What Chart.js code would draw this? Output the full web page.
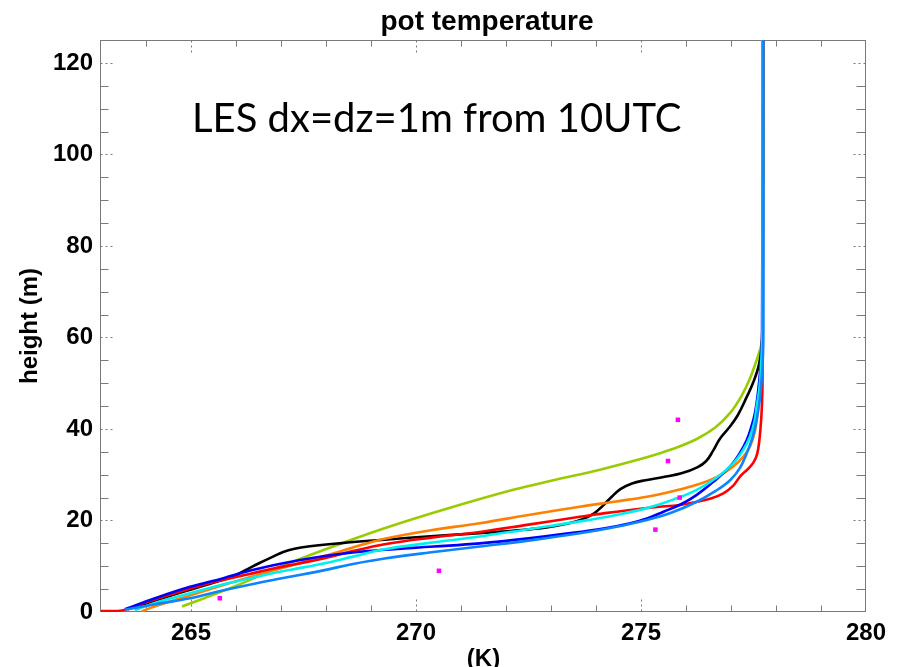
<!DOCTYPE html>
<html><head><meta charset="utf-8">
<script src="https://cdn.jsdelivr.net/npm/chart.js@4/dist/chart.umd.min.js"></script>
<style>html,body{margin:0;padding:0;background:#fff}#wrap{width:901px;height:667px}</style>
</head><body><div id="wrap"><canvas id="c" width="901" height="667"></canvas></div>
<script>
// ---- tick labels ----
const xTicks = [265, 270, 275, 280];
const yTicks = [0, 20, 40, 60, 80, 100, 120];

// ---- series (temperature K, height m) ----
const blackT = [263.6, 264.3, 264.75, 265.2, 265.9, 266.2, 266.5, 266.8, 267.05, 267.3, 267.6, 268.3, 269.3, 270.4, 271.4, 272.2, 272.9, 273.4, 273.7, 273.95, 274.15, 274.35, 274.55, 274.8, 275.1, 275.5, 275.9, 276.25, 276.45, 276.6, 276.75, 276.95, 277.15, 277.35, 277.5, 277.62, 277.68, 277.7, 277.7];
const blackH = [0.6, 2.8, 4.2, 5.5, 7.7, 9.1, 10.6, 12.0, 13.1, 13.8, 14.3, 15.0, 15.8, 16.6, 17.2, 17.8, 18.5, 19.4, 20.3, 21.5, 23.2, 25.2, 26.9, 28.1, 28.8, 29.5, 30.3, 31.6, 33.0, 35.2, 37.8, 40.2, 43.0, 47.0, 50.3, 54, 58, 65, 125];

const redT = [263.0, 263.5, 263.87, 264.61, 265.15, 265.72, 266.3, 266.83, 267.4, 267.94, 268.6, 269.3, 270.3, 271.42, 272.5, 273.64, 274.2, 274.76, 275.3, 275.87, 276.24, 276.55, 276.83, 277.05, 277.2, 277.38, 277.5, 277.58, 277.63, 277.67, 277.69, 277.7, 277.72];
const redH = [0.2, 0.4, 1.7, 4.0, 5.6, 7.0, 8.3, 9.5, 10.6, 11.7, 13.3, 14.8, 16.2, 17.5, 19.1, 20.8, 21.6, 22.3, 22.9, 23.4, 24.1, 24.8, 25.9, 27.6, 29.6, 31.3, 32.7, 34.5, 37.5, 42, 46, 50, 125];

const orangeT = [263.9, 264.1, 264.9, 265.72, 266.45, 267.2, 267.8, 268.31, 268.8, 269.3, 270.3, 271.42, 272.5, 273.64, 274.4, 275.13, 275.7, 276.24, 276.7, 277.05, 277.28, 277.42, 277.52, 277.57, 277.61, 277.64, 277.68, 277.7, 277.7];
const orangeH = [0.1, 0.9, 3.4, 5.9, 8.0, 10.1, 11.8, 13.2, 14.7, 16.0, 17.8, 19.4, 21.2, 23.0, 24.1, 25.2, 26.4, 27.8, 29.6, 31.8, 34.0, 36.1, 39, 42, 46, 50.7, 56, 62, 125];

const greenT = [264.8, 265.45, 266.09, 266.75, 267.42, 268.35, 269.3, 270.7, 272.16, 273.1, 274.09, 275.13, 275.7, 276.24, 276.65, 276.98, 277.25, 277.42, 277.55, 277.65, 277.7, 277.72];
const greenH = [1.2, 3.6, 6.1, 8.9, 11.6, 15.0, 18.3, 22.6, 26.7, 28.9, 31.1, 33.8, 35.6, 37.8, 40.3, 43.5, 47.5, 51, 54.5, 57.5, 60, 125];

const blueT = [263.53, 264.2, 264.98, 265.72, 266.3, 266.83, 267.4, 267.94, 268.6, 269.3, 270.4, 271.42, 272.5, 273.64, 274.2, 274.76, 275.15, 275.5, 275.9, 276.24, 276.6, 276.98, 277.2, 277.35, 277.45, 277.53, 277.6, 277.65, 277.69, 277.7];
const blueH = [0.6, 3.0, 5.5, 7.4, 9.0, 10.2, 11.3, 12.2, 13.0, 13.6, 14.3, 15.0, 16.1, 17.5, 18.3, 19.4, 20.5, 21.9, 23.6, 25.6, 28.4, 31.8, 34.8, 37.6, 40.4, 43.4, 48, 53, 60, 125];

const cyanT = [263.75, 264.3, 264.98, 265.7, 266.46, 267.2, 267.94, 268.6, 269.3, 270.3, 271.42, 272.5, 273.64, 274.4, 275.13, 275.7, 276.24, 276.7, 277.05, 277.27, 277.42, 277.52, 277.57, 277.62, 277.65, 277.68, 277.7, 277.7];
const cyanH = [0.4, 2.3, 4.1, 6.0, 7.7, 9.2, 10.6, 12.1, 13.7, 15.1, 16.5, 18.1, 19.8, 21.1, 22.7, 24.5, 26.7, 29.5, 32.5, 35.4, 38.3, 41.5, 44.9, 48, 51, 56, 62, 125];

const dodgerT = [263.53, 264.2, 264.98, 265.7, 266.46, 267.2, 267.94, 268.6, 269.3, 270.3, 271.42, 272.5, 273.64, 274.4, 275.13, 275.7, 276.24, 276.65, 276.98, 277.2, 277.35, 277.48, 277.57, 277.64, 277.68, 277.71, 277.72, 277.72];
const dodgerH = [0.5, 1.7, 3.0, 4.7, 6.3, 7.7, 9.1, 10.5, 11.7, 13.0, 14.3, 15.6, 17.2, 18.5, 20.1, 21.8, 24.1, 26.4, 28.8, 31.5, 34.7, 38.2, 42, 46.5, 50.7, 56, 62, 125];

// observations (magenta)
const obsT = [265.64, 270.51, 275.32, 275.86, 275.6, 275.82];
const obsH = [3.0, 9.0, 18.0, 25.0, 33.0, 42.0];

const pts = (T, H) => T.map((t, i) => ({x: t, y: H[i]}));

function lineDs(T, H, color) {
  return {
    data: pts(T, H), borderColor: color, backgroundColor: color, borderWidth: 2.6,
    pointRadius: 0, tension: 0.4, fill: false
  };
}

const axisFont = {family: 'Liberation Sans, Arial, sans-serif', weight: 'bold', size: 24};

const decor = {
  id: 'decor',
  beforeDatasetsDraw(chart) {
    const {ctx, chartArea: a, scales: {x, y}} = chart;
    ctx.save();
    ctx.strokeStyle = '#7a7a7a';
    ctx.lineWidth = 1;
    const L = Math.round(a.left) - 0.5, R = Math.round(a.right) - 0.5, T = Math.round(a.top) + 0.5, B = Math.round(a.bottom) - 0.5;
    ctx.strokeRect(L, T, R - L, B - T);
    for (let v = 264; v < 280; v++) {
      const px = Math.round(x.getPixelForValue(v)) + 0.5;
      const major = xTicks.includes(v);
      ctx.setLineDash(major ? [2, 3] : []);
      const len = major ? 12 : 6;
      ctx.beginPath();
      ctx.moveTo(px, B); ctx.lineTo(px, B - len);
      ctx.moveTo(px, T); ctx.lineTo(px, T + len);
      ctx.stroke();
    }
    for (let v = 5; v <= 120; v += 5) {
      const py = Math.round(y.getPixelForValue(v)) + 0.5;
      const major = yTicks.includes(v);
      ctx.setLineDash(major ? [2, 3] : []);
      const len = major ? 12 : 8;
      ctx.beginPath();
      ctx.moveTo(L, py); ctx.lineTo(L + len, py);
      ctx.moveTo(R, py); ctx.lineTo(R - len - 1, py);
      ctx.stroke();
    }
    ctx.restore();
  },
  afterDraw(chart) {
    const {ctx} = chart;
    ctx.save();
    ctx.fillStyle = '#000';
    ctx.textAlign = 'center';
    ctx.textBaseline = 'alphabetic';
    ctx.font = 'bold 28px "Liberation Sans", Arial, sans-serif';
    ctx.fillText('pot temperature', 487, 30);
    ctx.textAlign = 'left';
    ctx.font = '40px Lato, "Open Sans", sans-serif';
    ctx.fillText('LES dx=dz=1m from 10UTC', 192, 132);
    ctx.restore();
  }
};

new Chart(document.getElementById('c'), {
  type: 'line',
  data: {
    datasets: [
      {data: pts(obsT, obsH), showLine: false, pointStyle: 'rect', pointRadius: 3.2, pointBackgroundColor: '#ff00ff', pointBorderWidth: 0, borderColor: '#ff00ff'},
      lineDs(dodgerT, dodgerH, '#0a84ff'),
      lineDs(cyanT, cyanH, '#00f0f0'),
      lineDs(blueT, blueH, '#0000ff'),
      lineDs(redT, redH, '#ff0000'),
      lineDs(orangeT, orangeH, '#ff8000'),
      lineDs(blackT, blackH, '#000000'),
      lineDs(greenT, greenH, '#99cc00')
    ]
  },
  options: {
    responsive: false, animation: false, devicePixelRatio: 1,
    layout: {padding: {top: 40, right: 35, left: 0, bottom: 0}},
    plugins: {legend: {display: false}, tooltip: {enabled: false}, title: {display: false}},
    scales: {
      x: {
        type: 'linear', min: 263, max: 280,
        afterBuildTicks: s => { s.ticks = xTicks.map(v => ({value: v})); },
        afterFit: s => { s.height = 55; },
        grid: {display: false, drawTicks: false}, border: {display: false},
        ticks: {font: axisFont, color: '#000', padding: 7, maxRotation: 0, autoSkip: false},
        title: {display: true, text: '(K)', font: {...axisFont, lineHeight: 1}, color: '#000', padding: {top: 0, bottom: -4}}
      },
      y: {
        type: 'linear', min: 0, max: 125,
        afterBuildTicks: s => { s.ticks = yTicks.map(v => ({value: v})); },
        afterFit: s => { s.width = 101; },
        grid: {display: false, drawTicks: false}, border: {display: false},
        ticks: {font: axisFont, color: '#000', padding: 8, autoSkip: false},
        title: {display: true, text: 'height (m)', font: {...axisFont, lineHeight: 1}, color: '#000', padding: {top: 18, bottom: 0}}
      }
    }
  },
  plugins: [decor]
});
</script>
</body></html>
